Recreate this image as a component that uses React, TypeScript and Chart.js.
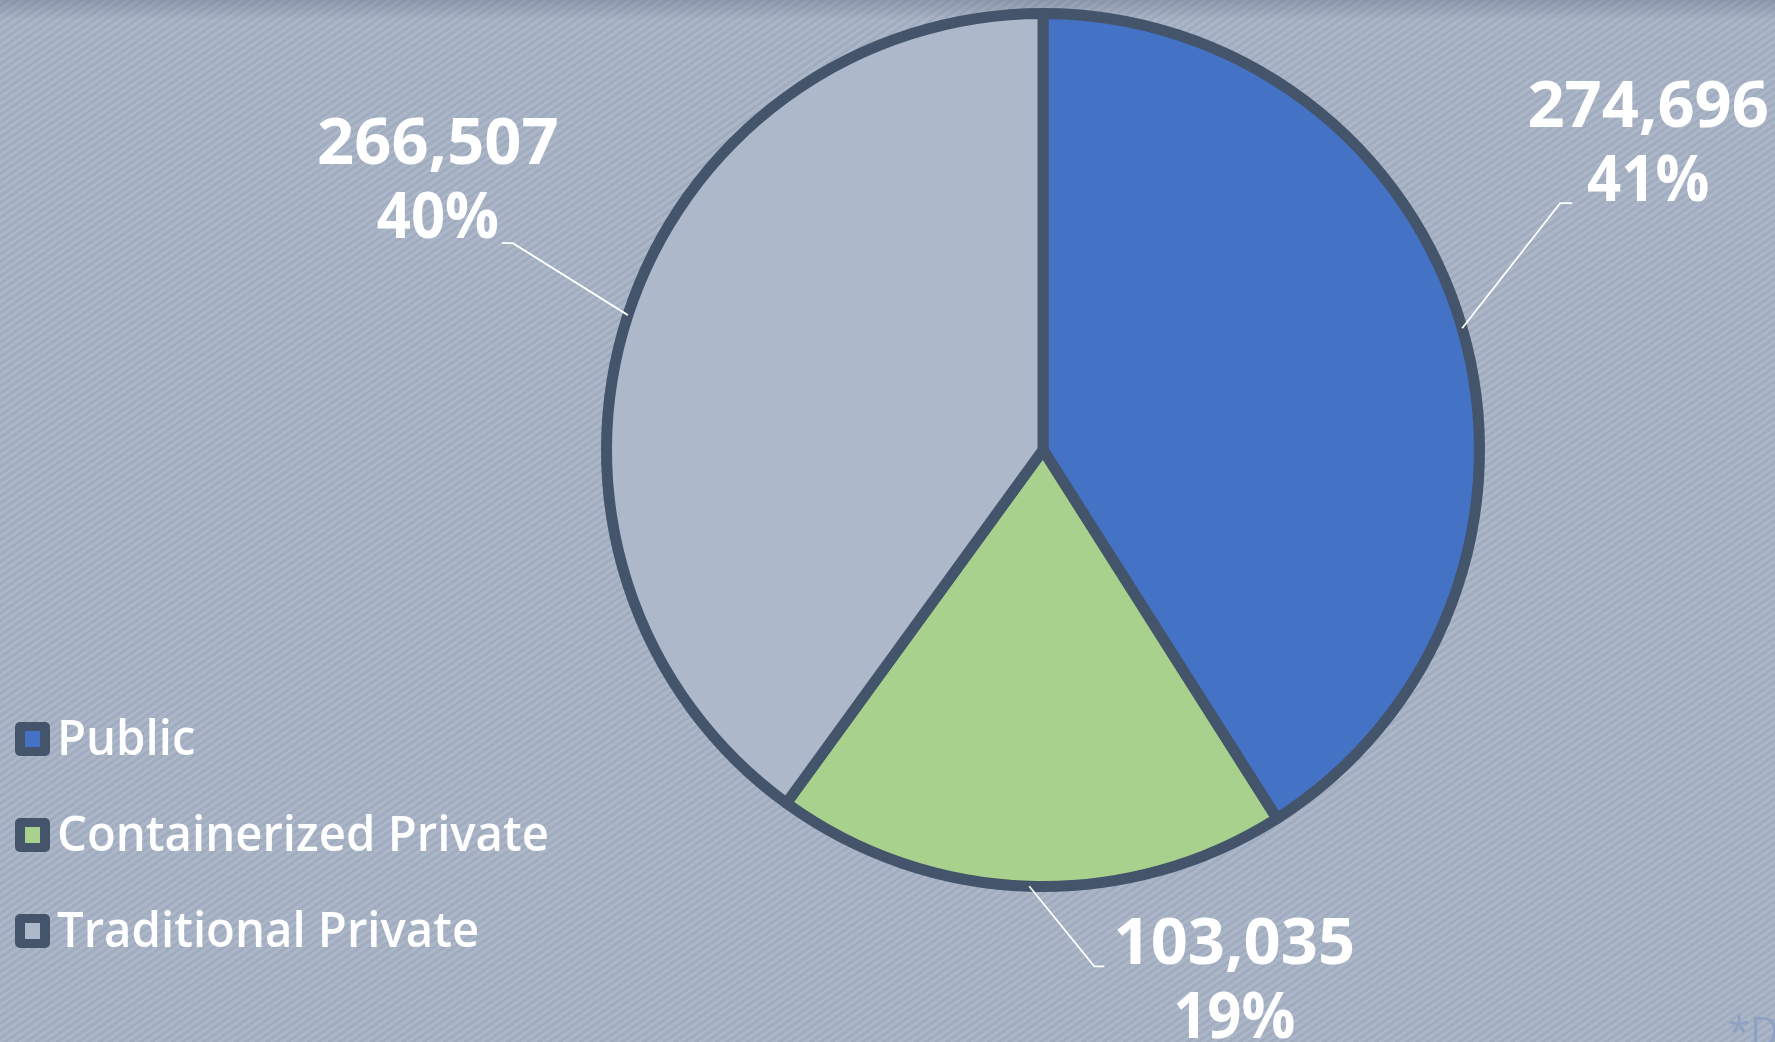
import React, { useEffect, useRef } from "react";
import { Chart, registerables } from "chart.js";

Chart.register(...registerables);

const categories = ["Public", "Containerized Private", "Traditional Private"];
const counts = [274696, 103035, 266507];
const shares = [41, 19, 40];
const sliceColors = ["#4472C4", "#A9D18E", "#ADB9CA"];
const borderColor = "#44546A";

const W = 1775;
const H = 1042;

const labelPlugin = {
  id: "sliceLabels",
  afterDatasetsDraw(chart: any, _args: any, opts: any) {
    const ctx = chart.ctx;
    const meta = chart.getDatasetMeta(0);
    meta.data.forEach((arc: any, i: number) => {
      const { x, y, startAngle, endAngle, outerRadius } = arc.getProps(
        ["x", "y", "startAngle", "endAngle", "outerRadius"],
        true
      );
      const mid = (startAngle + endAngle) / 2;
      const px = x + Math.cos(mid) * outerRadius;
      const py = y + Math.sin(mid) * outerRadius;
      const p = opts.placements[i];
      const ex = px + p.dx;
      const ey = py + p.dy;
      const hx = ex + p.hook;
      ctx.save();
      ctx.strokeStyle = "#ffffff";
      ctx.lineWidth = 1.8;
      ctx.beginPath();
      ctx.moveTo(px, py);
      ctx.lineTo(ex, ey);
      ctx.lineTo(hx, ey);
      ctx.stroke();
      ctx.fillStyle = "#ffffff";
      ctx.font = 'bold 65px "Open Sans"';
      ctx.textAlign = "center";
      ctx.textBaseline = "alphabetic";
      const cx = hx + p.textDx;
      const b1 = ey + p.firstBaseline;
      ctx.fillText(counts[i].toLocaleString("en-US"), cx, b1);
      ctx.save();
      ctx.translate(cx, b1 + 74);
      ctx.scale(0.92, 1);
      ctx.fillText(shares[i] + "%", 0, 0);
      ctx.restore();
      ctx.restore();
    });
  },
};

const legendPlugin = {
  id: "sideLegend",
  afterDraw(chart: any, _args: any, opts: any) {
    const ctx = chart.ctx;
    const colors = chart.data.datasets[0].backgroundColor;
    chart.data.labels.forEach((label: string, i: number) => {
      const base = opts.top + opts.gap * i;
      ctx.save();
      ctx.fillStyle = borderColor;
      ctx.beginPath();
      (ctx as any).roundRect(15, base - 33, 35, 34, 5);
      ctx.fill();
      ctx.fillStyle = colors[i];
      ctx.fillRect(25, base - 24, 15, 16);
      ctx.fillStyle = "#ffffff";
      ctx.font = '600 49px "Open Sans"';
      ctx.textAlign = "left";
      ctx.textBaseline = "alphabetic";
      ctx.translate(57, base);
      ctx.scale(0.965, 1);
      ctx.fillText(label, 0, 0);
      ctx.restore();
    });
    ctx.save();
    ctx.fillStyle = "#8fa1c3";
    ctx.font = '40px "Open Sans"';
    ctx.textAlign = "left";
    ctx.fillText("*Data", 1728, 1046);
    ctx.restore();
  },
};

export default function App() {
  const ref = useRef<HTMLCanvasElement | null>(null);

  useEffect(() => {
    if (!ref.current) return;
    const chart = new Chart(ref.current, {
      type: "pie",
      data: {
        labels: categories,
        datasets: [
          {
            data: shares,
            backgroundColor: sliceColors,
            borderColor: borderColor,
            borderWidth: 11,
            borderJoinStyle: "round",
          } as any,
        ],
      },
      options: {
        responsive: false,
        maintainAspectRatio: false,
        devicePixelRatio: 1,
        animation: false,
        rotation: 0,
        layout: { padding: { left: 601, right: 290, top: 8, bottom: 150 } },
        plugins: {
          legend: { display: false },
          tooltip: { enabled: false },
          sliceLabels: {
            placements: [
              { dx: 98, dy: -125, hook: 12, textDx: 76, firstBaseline: -76 },
              { dx: 65, dy: 80, hook: 10, textDx: 130, firstBaseline: -2 },
              { dx: -115, dy: -72, hook: -11, textDx: -64, firstBaseline: -79 },
            ],
          },
          sideLegend: { top: 755, gap: 96 },
        } as any,
      },
      plugins: [labelPlugin, legendPlugin],
    });
    return () => chart.destroy();
  }, []);

  return (
    <div
      style={{
        position: "fixed",
        left: 0,
        top: 0,
        width: W,
        height: H,
        overflow: "hidden",
        background:
          "linear-gradient(to bottom, rgba(70,82,104,0.28), rgba(70,82,104,0) 20px), repeating-linear-gradient(145deg, #abb6c8 0px, #abb6c8 3px, #a1adbf 3px, #a1adbf 6px)",
      }}
    >
      <canvas ref={ref} width={W} height={H} style={{ width: W, height: H, display: "block" }} />
    </div>
  );
}
